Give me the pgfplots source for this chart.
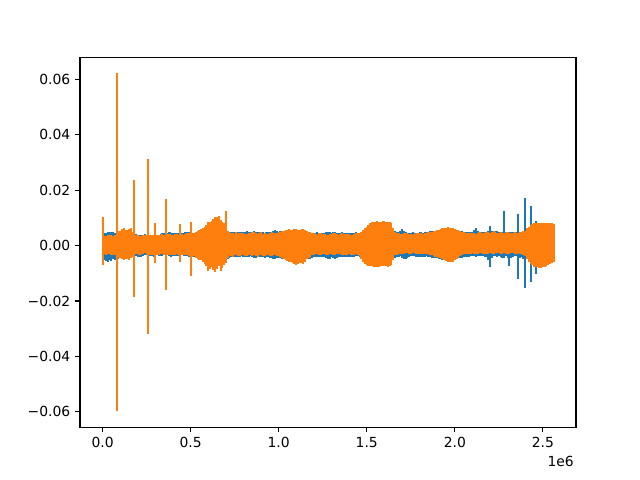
\documentclass[border=0pt]{standalone}
\usepackage{pgfplots}
\pgfplotsset{compat=1.18}
\usepackage{pgfplotstable}
\usepackage{fontspec}
\setmainfont{DejaVu Sans}
\definecolor{mblue}{HTML}{1F77B4}
\definecolor{morange}{HTML}{FF7F0E}

% channel 1 (blue): per window of 10000 samples, max and min
\pgfplotstableread[header=false,row sep=\\]{
0.0030 -0.0040\\0.0040 -0.0048\\0.0042 -0.0052\\0.0045 -0.0055\\0.0046 -0.0050\\0.0045 -0.0052\\0.0044 -0.0046\\0.0042 -0.0048\\0.0040 -0.0043\\0.0039 -0.0045\\
0.0038 -0.0040\\0.0042 -0.0040\\0.0045 -0.0038\\0.0042 -0.0038\\0.0040 -0.0041\\0.0041 -0.0042\\0.0043 -0.0039\\0.0041 -0.0037\\0.0040 -0.0036\\0.0038 -0.0035\\
0.0036 -0.0036\\0.0035 -0.0038\\0.0034 -0.0036\\0.0036 -0.0035\\0.0038 -0.0032\\0.0036 -0.0030\\0.0035 -0.0032\\0.0033 -0.0033\\0.0032 -0.0035\\0.0035 -0.0036\\
0.0037 -0.0033\\0.0036 -0.0031\\0.0035 -0.0033\\0.0038 -0.0034\\0.0042 -0.0033\\0.0040 -0.0032\\0.0039 -0.0031\\0.0042 -0.0030\\0.0045 -0.0034\\0.0042 -0.0036\\
0.0040 -0.0034\\0.0042 -0.0033\\0.0043 -0.0034\\0.0040 -0.0035\\0.0038 -0.0033\\0.0040 -0.0031\\0.0041 -0.0033\\0.0044 -0.0034\\0.0046 -0.0035\\0.0044 -0.0036\\
0.0042 -0.0037\\0.0041 -0.0038\\0.0040 -0.0037\\0.0043 -0.0036\\0.0045 -0.0040\\0.0047 -0.0042\\0.0048 -0.0044\\0.0050 -0.0045\\0.0052 -0.0048\\0.0056 -0.0050\\
0.0060 -0.0060\\0.0062 -0.0061\\0.0065 -0.0062\\0.0068 -0.0064\\0.0070 -0.0065\\0.0071 -0.0066\\0.0072 -0.0066\\0.0070 -0.0064\\0.0068 -0.0062\\0.0062 -0.0060\\
0.0055 -0.0050\\0.0050 -0.0045\\0.0044 -0.0040\\0.0045 -0.0036\\0.0046 -0.0038\\0.0044 -0.0039\\0.0043 -0.0038\\0.0045 -0.0037\\0.0047 -0.0036\\0.0046 -0.0035\\
0.0045 -0.0036\\0.0046 -0.0037\\0.0048 -0.0038\\0.0046 -0.0036\\0.0044 -0.0035\\0.0047 -0.0038\\0.0050 -0.0042\\0.0047 -0.0040\\0.0045 -0.0039\\0.0046 -0.0039\\
0.0046 -0.0037\\0.0044 -0.0038\\0.0043 -0.0040\\0.0045 -0.0039\\0.0047 -0.0038\\0.0046 -0.0040\\0.0045 -0.0042\\0.0048 -0.0043\\0.0052 -0.0044\\0.0049 -0.0042\\
0.0046 -0.0040\\0.0048 -0.0041\\0.0049 -0.0043\\0.0050 -0.0045\\0.0050 -0.0046\\0.0051 -0.0048\\0.0052 -0.0050\\0.0051 -0.0052\\0.0050 -0.0054\\0.0051 -0.0057\\
0.0052 -0.0060\\0.0051 -0.0057\\0.0050 -0.0055\\0.0050 -0.0056\\0.0051 -0.0056\\0.0050 -0.0050\\0.0048 -0.0045\\0.0045 -0.0045\\0.0042 -0.0046\\0.0042 -0.0040\\
0.0042 -0.0037\\0.0043 -0.0038\\0.0044 -0.0038\\0.0043 -0.0037\\0.0043 -0.0036\\0.0042 -0.0038\\0.0041 -0.0039\\0.0044 -0.0042\\0.0047 -0.0045\\0.0045 -0.0045\\
0.0043 -0.0038\\0.0044 -0.0041\\0.0045 -0.0044\\0.0042 -0.0040\\0.0040 -0.0036\\0.0042 -0.0036\\0.0044 -0.0037\\0.0043 -0.0038\\0.0042 -0.0039\\0.0043 -0.0037\\
0.0043 -0.0036\\0.0042 -0.0037\\0.0041 -0.0038\\0.0043 -0.0036\\0.0044 -0.0035\\0.0042 -0.0035\\0.0040 -0.0036\\0.0042 -0.0039\\0.0045 -0.0042\\0.0050 -0.0048\\
0.0055 -0.0055\\0.0060 -0.0058\\0.0065 -0.0060\\0.0067 -0.0061\\0.0068 -0.0062\\0.0069 -0.0063\\0.0070 -0.0063\\0.0070 -0.0063\\0.0069 -0.0061\\0.0070 -0.0061\\
0.0070 -0.0060\\0.0069 -0.0061\\0.0068 -0.0062\\0.0066 -0.0060\\0.0065 -0.0058\\0.0055 -0.0048\\0.0048 -0.0040\\0.0047 -0.0038\\0.0046 -0.0036\\0.0050 -0.0035\\
0.0055 -0.0040\\0.0048 -0.0043\\0.0044 -0.0045\\0.0043 -0.0040\\0.0042 -0.0036\\0.0043 -0.0035\\0.0044 -0.0034\\0.0042 -0.0034\\0.0041 -0.0036\\0.0043 -0.0037\\
0.0045 -0.0036\\0.0044 -0.0036\\0.0043 -0.0038\\0.0045 -0.0037\\0.0046 -0.0035\\0.0047 -0.0036\\0.0048 -0.0039\\0.0049 -0.0040\\0.0050 -0.0040\\0.0050 -0.0041\\
0.0050 -0.0042\\0.0051 -0.0044\\0.0052 -0.0045\\0.0054 -0.0047\\0.0055 -0.0048\\0.0056 -0.0049\\0.0056 -0.0050\\0.0055 -0.0051\\0.0055 -0.0052\\0.0054 -0.0049\\
0.0053 -0.0046\\0.0051 -0.0044\\0.0050 -0.0042\\0.0049 -0.0041\\0.0048 -0.0040\\0.0047 -0.0039\\0.0047 -0.0038\\0.0046 -0.0037\\0.0046 -0.0036\\0.0046 -0.0035\\
0.0046 -0.0034\\0.0052 -0.0035\\0.0059 -0.0036\\0.0048 -0.0034\\0.0045 -0.0033\\0.0046 -0.0034\\0.0047 -0.0035\\0.0045 -0.0036\\0.0044 -0.0037\\0.0050 -0.0050\\
0.0068 -0.0075\\0.0048 -0.0040\\0.0046 -0.0034\\0.0048 -0.0035\\0.0050 -0.0036\\0.0046 -0.0035\\0.0045 -0.0038\\0.0046 -0.0040\\0.0120 -0.0040\\0.0046 -0.0035\\
0.0046 -0.0040\\0.0045 -0.0069\\0.0044 -0.0040\\0.0045 -0.0036\\0.0047 -0.0034\\0.0046 -0.0035\\0.0110 -0.0117\\0.0046 -0.0040\\0.0045 -0.0038\\0.0050 -0.0045\\
0.0167 -0.0150\\0.0050 -0.0045\\0.0060 -0.0050\\0.0138 -0.0126\\0.0070 -0.0060\\0.0072 -0.0065\\0.0086 -0.0097\\0.0074 -0.0070\\0.0075 -0.0072\\0.0075 -0.0072\\
0.0074 -0.0070\\0.0074 -0.0070\\0.0076 -0.0068\\0.0075 -0.0066\\0.0074 -0.0060\\0.0073 -0.0058\\0.0072 -0.0055\\
}\chone

% channel 2 (orange): per window of 10000 samples, max and min
\pgfplotstableread[header=false,row sep=\\]{
0.0100 -0.0067\\0.0030 -0.0028\\0.0032 -0.0030\\0.0034 -0.0027\\0.0035 -0.0026\\0.0033 -0.0029\\0.0031 -0.0030\\0.0034 -0.0029\\0.0617 -0.0594\\0.0048 -0.0040\\
0.0050 -0.0042\\0.0055 -0.0046\\0.0058 -0.0048\\0.0054 -0.0044\\0.0052 -0.0045\\0.0057 -0.0047\\0.0060 -0.0040\\0.0045 -0.0038\\0.0234 -0.0183\\0.0035 -0.0027\\
0.0033 -0.0026\\0.0031 -0.0029\\0.0030 -0.0028\\0.0034 -0.0026\\0.0035 -0.0024\\0.0033 -0.0028\\0.0308 -0.0316\\0.0036 -0.0030\\0.0036 -0.0030\\0.0034 -0.0029\\
0.0078 -0.0058\\0.0035 -0.0031\\0.0034 -0.0031\\0.0036 -0.0027\\0.0037 -0.0027\\0.0035 -0.0029\\0.0164 -0.0155\\0.0037 -0.0032\\0.0038 -0.0032\\0.0036 -0.0030\\
0.0035 -0.0030\\0.0038 -0.0029\\0.0039 -0.0028\\0.0036 -0.0031\\0.0075 -0.0057\\0.0037 -0.0031\\0.0036 -0.0031\\0.0039 -0.0029\\0.0040 -0.0029\\0.0041 -0.0033\\
0.0080 -0.0105\\0.0043 -0.0036\\0.0042 -0.0035\\0.0046 -0.0040\\0.0050 -0.0045\\0.0053 -0.0047\\0.0056 -0.0048\\0.0060 -0.0055\\0.0065 -0.0062\\0.0072 -0.0070\\
0.0080 -0.0088\\0.0083 -0.0080\\0.0085 -0.0072\\0.0092 -0.0085\\0.0100 -0.0093\\0.0098 -0.0082\\0.0104 -0.0070\\0.0090 -0.0088\\0.0082 -0.0078\\0.0078 -0.0065\\
0.0120 -0.0060\\0.0050 -0.0040\\0.0045 -0.0033\\0.0041 -0.0034\\0.0042 -0.0036\\0.0039 -0.0031\\0.0044 -0.0030\\0.0040 -0.0033\\0.0040 -0.0034\\0.0042 -0.0030\\
0.0043 -0.0031\\0.0037 -0.0034\\0.0038 -0.0035\\0.0040 -0.0030\\0.0041 -0.0029\\0.0044 -0.0033\\0.0046 -0.0032\\0.0040 -0.0035\\0.0039 -0.0036\\0.0042 -0.0031\\
0.0044 -0.0030\\0.0039 -0.0034\\0.0040 -0.0033\\0.0038 -0.0030\\0.0037 -0.0031\\0.0043 -0.0033\\0.0047 -0.0034\\0.0042 -0.0030\\0.0041 -0.0029\\0.0043 -0.0033\\
0.0045 -0.0035\\0.0047 -0.0038\\0.0048 -0.0040\\0.0050 -0.0045\\0.0052 -0.0048\\0.0054 -0.0052\\0.0055 -0.0055\\0.0053 -0.0057\\0.0054 -0.0060\\0.0057 -0.0064\\
0.0056 -0.0068\\0.0052 -0.0061\\0.0053 -0.0058\\0.0055 -0.0060\\0.0056 -0.0063\\0.0052 -0.0054\\0.0050 -0.0045\\0.0046 -0.0040\\0.0044 -0.0036\\0.0041 -0.0032\\
0.0040 -0.0030\\0.0037 -0.0028\\0.0036 -0.0027\\0.0040 -0.0031\\0.0042 -0.0032\\0.0039 -0.0028\\0.0038 -0.0026\\0.0036 -0.0029\\0.0035 -0.0030\\0.0038 -0.0027\\
0.0039 -0.0028\\0.0040 -0.0030\\0.0041 -0.0031\\0.0038 -0.0028\\0.0036 -0.0026\\0.0038 -0.0028\\0.0040 -0.0029\\0.0038 -0.0031\\0.0037 -0.0032\\0.0037 -0.0029\\
0.0038 -0.0027\\0.0036 -0.0029\\0.0035 -0.0030\\0.0038 -0.0029\\0.0040 -0.0028\\0.0041 -0.0031\\0.0042 -0.0033\\0.0047 -0.0045\\0.0052 -0.0055\\0.0058 -0.0062\\
0.0065 -0.0068\\0.0072 -0.0069\\0.0078 -0.0070\\0.0080 -0.0071\\0.0082 -0.0072\\0.0083 -0.0073\\0.0084 -0.0072\\0.0083 -0.0073\\0.0083 -0.0071\\0.0084 -0.0071\\
0.0084 -0.0070\\0.0083 -0.0070\\0.0082 -0.0072\\0.0080 -0.0070\\0.0078 -0.0066\\0.0060 -0.0050\\0.0045 -0.0030\\0.0042 -0.0030\\0.0040 -0.0026\\0.0039 -0.0026\\
0.0038 -0.0025\\0.0040 -0.0025\\0.0041 -0.0023\\0.0040 -0.0023\\0.0039 -0.0027\\0.0037 -0.0027\\0.0036 -0.0024\\0.0038 -0.0024\\0.0040 -0.0026\\0.0041 -0.0026\\
0.0042 -0.0025\\0.0040 -0.0025\\0.0038 -0.0028\\0.0041 -0.0028\\0.0043 -0.0027\\0.0044 -0.0027\\0.0045 -0.0030\\0.0047 -0.0030\\0.0048 -0.0033\\0.0050 -0.0036\\
0.0052 -0.0038\\0.0054 -0.0040\\0.0055 -0.0042\\0.0058 -0.0045\\0.0060 -0.0048\\0.0061 -0.0052\\0.0062 -0.0055\\0.0061 -0.0056\\0.0060 -0.0057\\0.0058 -0.0054\\
0.0056 -0.0048\\0.0054 -0.0044\\0.0052 -0.0040\\0.0049 -0.0035\\0.0046 -0.0030\\0.0044 -0.0028\\0.0043 -0.0027\\0.0041 -0.0026\\0.0040 -0.0025\\0.0041 -0.0025\\
0.0042 -0.0024\\0.0040 -0.0025\\0.0039 -0.0026\\0.0042 -0.0026\\0.0044 -0.0023\\0.0042 -0.0024\\0.0040 -0.0025\\0.0043 -0.0025\\0.0046 -0.0027\\0.0044 -0.0026\\
0.0043 -0.0024\\0.0046 -0.0025\\0.0048 -0.0026\\0.0044 -0.0024\\0.0041 -0.0023\\0.0043 -0.0024\\0.0045 -0.0025\\0.0043 -0.0025\\0.0042 -0.0024\\0.0044 -0.0025\\
0.0046 -0.0026\\0.0043 -0.0025\\0.0040 -0.0023\\0.0042 -0.0024\\0.0044 -0.0025\\0.0042 -0.0025\\0.0041 -0.0024\\0.0044 -0.0026\\0.0047 -0.0027\\0.0048 -0.0030\\
0.0050 -0.0035\\0.0058 -0.0045\\0.0065 -0.0055\\0.0070 -0.0062\\0.0075 -0.0068\\0.0077 -0.0072\\0.0078 -0.0075\\0.0079 -0.0075\\0.0079 -0.0078\\0.0078 -0.0077\\
0.0078 -0.0074\\0.0079 -0.0072\\0.0079 -0.0070\\0.0078 -0.0066\\0.0077 -0.0062\\0.0076 -0.0058\\0.0075 -0.0055\\
}\chtwo

\begin{document}
\begin{tikzpicture}
\begin{axis}[
  scale only axis,
  width=357.12pt, height=266.11pt,
  xmin=-128000, xmax=2688000,
  ymin=-0.0655, ymax=0.0678,
  axis line style={line width=0.8pt},
  every tick/.style={black, line width=0.8pt},
  major tick length=3.5pt,
  tick align=outside,
  xtick pos=bottom, ytick pos=left,
  scaled x ticks=false, scaled y ticks=false,
  xtick={0,500000,1000000,1500000,2000000,2500000},
  xticklabels={0.0,0.5,1.0,1.5,2.0,2.5},
  ytick={-0.06,-0.04,-0.02,0,0.02,0.04,0.06},
  yticklabels={−0.06,−0.04,−0.02,0.00,0.02,0.04,0.06},
  tick label style={font=\fontsize{10}{12}\selectfont},
  /pgf/number format/assume math mode=true,
  clip=true,
]
\addplot[ycomb, color=mblue, line width=1.5pt, line cap=rect, no markers] table[x expr=\coordindex*10000, y index=0] {\chone};
\addplot[ycomb, color=mblue, line width=1.5pt, line cap=rect, no markers] table[x expr=\coordindex*10000, y index=1] {\chone};
\addplot[ycomb, color=morange, line width=1.5pt, line cap=rect, no markers] table[x expr=\coordindex*10000, y index=0] {\chtwo};
\addplot[ycomb, color=morange, line width=1.5pt, line cap=rect, no markers] table[x expr=\coordindex*10000, y index=1] {\chtwo};
\coordinate (bbsw) at (rel axis cs:0,0);
\coordinate (bbne) at (rel axis cs:1,1);
\end{axis}
\node[anchor=east, inner sep=0pt, font=\fontsize{10}{12}\selectfont] at ([shift={(-1.4pt,-24.8pt)}]bbsw -| bbne) {1e6};
\path ([shift={(-57.6pt,-38.016pt)}]bbsw) rectangle ([shift={(46.08pt,41.472pt)}]bbne);
\end{tikzpicture}
\end{document}
